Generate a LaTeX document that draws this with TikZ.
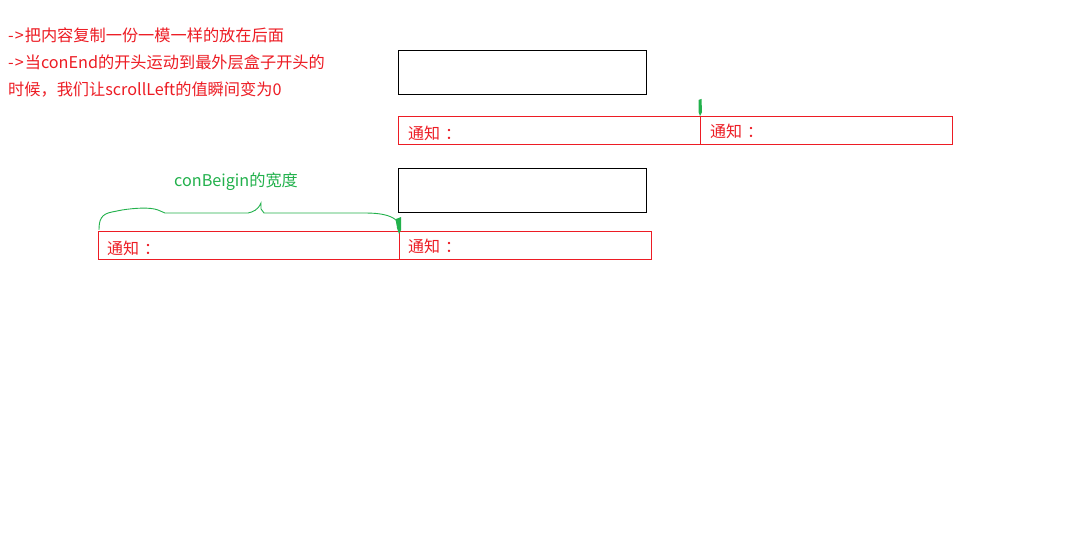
\documentclass[tikz,border=0pt]{standalone}
\usepackage{fontspec}
\newfontfamily\cjk{Noto Sans CJK SC}
\definecolor{myred}{RGB}{237,28,36}
\definecolor{mygreen}{RGB}{34,177,76}
\begin{document}
\begin{tikzpicture}[x=1pt,y=-1pt,
  blackbox/.style={draw=black,line width=1pt},
  redcell/.style={draw=myred,line width=0.9pt},
  note/.style={font=\cjk\fontsize{16}{18}\selectfont,text=myred,anchor=west,inner sep=0pt},
  redtxt/.style={font=\cjk\fontsize{16.2}{18}\selectfont,text=myred,anchor=west,inner sep=0pt},
  greentxt/.style={font=\cjk\fontsize{16.2}{18}\selectfont,text=mygreen,anchor=west,inner sep=0pt}]
\fill[white] (0,0) rectangle (1080,540);
\useasboundingbox (0,0) rectangle (1080,540);
% texts
\node[redtxt] (l1) at (8,35) {-\kern1pt>\kern1pt把内容复制一份一模一样的放在后面};
\node[redtxt] (l2) at (8,62) {-\kern1pt>\kern1pt当conEnd的开头运动到最外层盒子开头的};
\node[redtxt] (l3) at (8,89) {时候，我们让scrollLeft的值瞬间变为0};
% top group
\draw[blackbox] (398,51) rectangle (646,95);
\draw[redcell] (398,116) rectangle (700,144);
\draw[redcell] (700,116) rectangle (952,144);
\node[note] (n1) at (408,133) {通知\kern5pt：};
\node[note] (n2) at (710,131) {通知\kern5pt：};
\fill[mygreen] (698.5,100) -- (701.5,99) -- (702,112) -- (700,116) -- (698.5,112) -- cycle;
% bottom group
\draw[blackbox] (398,169) rectangle (646,213);
\draw[redcell] (98,231) rectangle (399,259);
\draw[redcell] (399,231) rectangle (651,259);
\node[note] (n3) at (107,248) {通知\kern5pt：};
\node[note] (n4) at (408,246) {通知\kern5pt：};
\node[greentxt] (g) at (174,182) {conBeigin的宽度};
\coordinate (bs) at (99,230);
\coordinate (be) at (399,232);
\draw[mygreen,line width=0.9pt] (bs) .. controls (99,220) and (101,214) .. (112,212)
  -- (122,210) .. controls (135,208) and (150,207) .. (158,210) -- (165,213)
  -- (248,213) .. controls (253,212) and (258,210) .. (261,203) -- (261,209) -- (264,213)
  -- (365,213) .. controls (380,213) and (390,215) .. (396,220) -- (be);
\fill[mygreen] (396,219) -- (401,217) -- (401,230) -- (399,234) -- (397,228) -- cycle;
\end{tikzpicture}
\end{document}
